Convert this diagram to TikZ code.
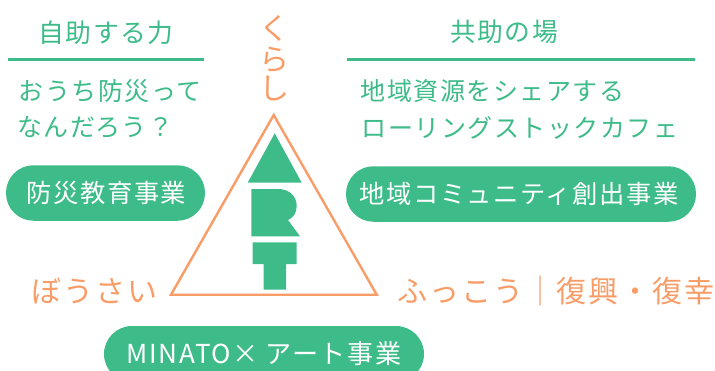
\documentclass[tikz,border=0pt]{standalone}
\usepackage{fontspec}
\setmainfont{Noto Sans CJK JP}[LetterSpace=6]
\definecolor{artGreen}{HTML}{3DBB88}
\definecolor{artOrange}{HTML}{F99D68}
\newcommand{\headSize}[0]{\fontsize{25.8}{25.8}\selectfont}
\newcommand{\bodySize}[0]{\fontsize{25}{25}\selectfont}
\newcommand{\pillSize}[0]{\fontsize{25.3}{25.3}\selectfont}
\newcommand{\sideSize}[0]{\fontsize{30}{30}\selectfont}
\begin{document}
\begin{tikzpicture}[x=1pt, y=-1pt]
  \tikzset{
    every node/.style={inner sep=0pt},
    head/.style={text=artGreen, font=\headSize},
    body/.style={text=artGreen, font=\bodySize},
    side/.style={text=artOrange, font=\sideSize},
    pill/.style={fill=artGreen, text=white, font=\pillSize, rounded corners=27.5pt, minimum height=55.5pt},
    rule/.style={draw=artGreen, line width=2.6pt},
    emblem/.style={fill=artGreen}
  }
  \useasboundingbox (0,0) rectangle (715,370);
  \clip (0,0) rectangle (715,370);
  \node[head] (self) at (106,33) {自助する力};
  \node[head] (mutual) at (504,32) {共助の場};
  \coordinate (selfL) at (7.5,59.5);
  \coordinate (selfR) at (204,59.5);
  \coordinate (mutualL) at (347,59.5);
  \coordinate (mutualR) at (695,59.5);
  \draw[rule] (selfL) -- (selfR);
  \draw[rule] (mutualL) -- (mutualR);
  \node[body] (selfA) at (110,91) {おうち防災って};
  \node[body] (selfB) at (95,127) {なんだろう？};
  \node[body] (mutualA) at (492.5,91) {地域資源をシェアする};
  \node[body] (mutualB) at (520,128) {ローリングストックカフェ};
  \node[pill, minimum width=199pt] (selfPill) at (105.5,193) {\hspace*{2pt}防災教育事業};
  \node[pill, minimum width=350pt] (mutualPill) at (521,194) {地域コミュニティ創出事業\hspace*{4pt}};
  \node[pill, minimum width=320pt, minimum height=56pt, rounded corners=28pt, font=\fontsize{26.1}{26.1}\selectfont] (artPill) at (264,354) {MINATO× アート事業};
  \node[side] (life) at (274,28) {く};
  \node[side] (lifeB) at (274,60) {ら};
  \node[side] (lifeC) at (274,89) {し};
  \node[side] (prevent) at (94.5,291) {ぼうさい};
  \node[side] (recover) at (556,291) {ふっこう｜復興・復幸};
  \draw[artOrange, line width=2.4pt, line join=miter] (273.7,115) -- (171,294.7) -- (376.7,294.7) -- cycle;
  % A
  \fill[emblem] (274.7,133.3) -- (247.7,182.7) -- (301.7,182.7) -- cycle;
  % R
  \fill[emblem] (251.3,189) -- (278,189) .. controls (289,189) and (296.7,196) .. (296.7,206)
    .. controls (296.7,213) and (293,218) .. (288,220) -- (300,236.3) -- (251.3,236.3) -- cycle;
  % T
  \fill[emblem] (252.7,242.3) -- (296.7,242.3) -- (296.7,264) -- (286,264) -- (286,289.7)
    -- (263.7,289.7) -- (263.7,264) -- (252.7,264) -- cycle;
\end{tikzpicture}
\end{document}
